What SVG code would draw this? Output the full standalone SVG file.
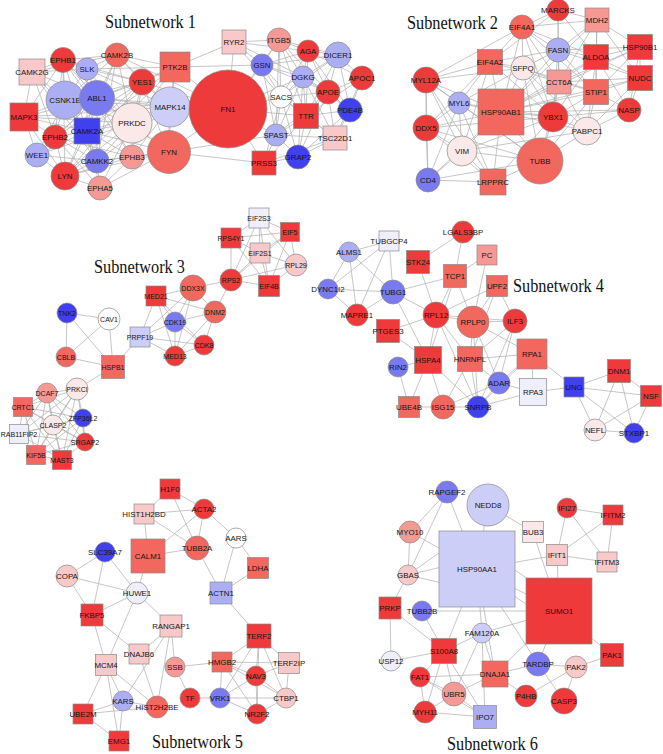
<svg xmlns="http://www.w3.org/2000/svg" width="663" height="754" viewBox="0 0 663 754">
<style>
.e{fill:none;stroke:#aeaeae;stroke-width:.7}
.n>circle,.n>rect{stroke:#8a8a8a;stroke-width:.7}
.n text{font-family:"Liberation Sans",Arial,sans-serif;font-size:7.9px;fill:#151515;text-anchor:middle}
.s3 .n text{font-size:7px}
.R1{fill:#ee3a3a}.R2{fill:#f2685f}.R3{fill:#f69995}.R4{fill:#f9c8c8}.W{fill:#fbe8e9}.WW{fill:#fff}.L{fill:#eeeffb}.B4{fill:#cdcef7}.B3{fill:#acaef4}.B2{fill:#7a7af0}.B1{fill:#4040ee}
.t{font-family:"Liberation Serif","Times New Roman",serif;font-size:16.3px;fill:#111}
</style>
<rect width="663" height="754" fill="#fff"/>
<g id="titles">
<text class="t" transform="translate(105,28) scale(1,1.13)">Subnetwork 1</text>
<text class="t" transform="translate(407,29) scale(1,1.13)">Subnetwork 2</text>
<text class="t" transform="translate(94,273) scale(1,1.13)">Subnetwork 3</text>
<text class="t" transform="translate(513,292) scale(1,1.13)">Subnetwork 4</text>
<text class="t" transform="translate(152,748) scale(1,1.13)">Subnetwork 5</text>
<text class="t" transform="translate(447,750) scale(1,1.13)">Subnetwork 6</text>
</g>
<g id="connectors">
<path class="e" d="M63,60L32,72M63,60L87,69M63,60L65,100M63,60L97,98M63,60L117,55M63,60L24,117M63,60L87,131M63,60L55,137M63,60L142,82M63,60L132,123M63,60L65,176M63,60L132,157
M117,55L87,69M117,55L142,82M117,55L175,67M117,55L97,98M117,55L65,100M117,55L87,131M117,55L32,72M117,55L132,123M117,55L170,107M117,55L97,161M117,55L228,109
M32,72L87,69M32,72L65,100M32,72L24,117M32,72L87,131M32,72L97,98M32,72L55,137M32,72L97,161
M87,69L142,82M87,69L65,100M87,69L97,98M87,69L175,67M87,69L87,131M87,69L170,107M87,69L132,123
M142,82L175,67M142,82L97,98M142,82L170,107M142,82L132,123M142,82L168,152M142,82L65,176M142,82L132,157M142,82L65,100M142,82L87,131M142,82L228,109M142,82L55,137
M175,67L170,107M175,67L97,98M175,67L132,123M175,67L168,152M175,67L228,109M175,67L87,131M175,67L65,176M175,67L234,42M175,67L262,65
M65,100L97,98M65,100L24,117M65,100L87,131M65,100L55,137M65,100L37,155M65,100L132,123M65,100L97,161M65,100L170,107
M97,98L132,123M97,98L87,131M97,98L55,137M97,98L170,107M97,98L97,161M97,98L168,152M97,98L65,176M97,98L132,157M97,98L37,155M97,98L24,117M97,98L228,109
M24,117L87,131M24,117L55,137M24,117L37,155M24,117L170,107M24,117L65,176M24,117L132,123
M170,107L132,123M170,107L168,152M170,107L228,109M170,107L87,131M170,107L132,157M170,107L97,161
M132,123L87,131M132,123L168,152M132,123L132,157M132,123L97,161M132,123L100,188M132,123L65,176M132,123L37,155
M87,131L55,137M87,131L37,155M87,131L97,161M87,131L132,157M87,131L65,176M87,131L100,188M87,131L168,152
M55,137L37,155M55,137L65,176M55,137L97,161M55,137L100,188M55,137L132,157
M37,155L65,176M37,155L97,161M97,161L132,157M97,161L65,176M97,161L100,188M97,161L168,152
M132,157L168,152M132,157L100,188M132,157L65,176
M168,152L228,109M168,152L65,176M168,152L100,188M168,152L264,163M168,152L276,135M65,176L100,188
M228,109L234,42M228,109L262,65M228,109L279,40M228,109L281,97M228,109L276,135M228,109L264,163M228,109L306,116M228,109L303,77
M234,42L279,40M234,42L262,65M234,42L308,51M234,42L303,77M234,42L281,97
M279,40L308,51M279,40L338,55M279,40L262,65M279,40L303,77M279,40L328,92M279,40L281,97M279,40L306,116M279,40L276,135
M308,51L338,55M308,51L262,65M308,51L303,77M308,51L328,92M308,51L281,97M308,51L306,116M308,51L362,78M308,51L350,110
M338,55L303,77M338,55L328,92M338,55L362,78M338,55L350,110M338,55L306,116M338,55L281,97M338,55L262,65
M262,65L303,77M262,65L281,97M262,65L328,92M262,65L306,116M262,65L276,135
M303,77L328,92M303,77L281,97M303,77L306,116M303,77L276,135M303,77L350,110M303,77L335,138M303,77L298,157
M328,92L281,97M328,92L306,116M328,92L362,78M328,92L350,110M328,92L335,138M328,92L276,135M328,92L298,157
M281,97L306,116M281,97L276,135M281,97L264,163M281,97L298,157M281,97L335,138
M306,116L276,135M306,116L335,138M306,116L298,157M306,116L264,163M306,116L350,110M306,116L362,78
M276,135L264,163M276,135L298,157M276,135L335,138M335,138L298,157M335,138L350,110M335,138L264,163M335,138L362,78
M298,157L264,163M298,157L350,110M350,110L362,78"/>
<path class="e" d="M426,80L490,62M426,80L459,103M426,80L501,112M426,80L426,128M426,80L462,151M426,80L428,180M426,80L493,182M426,80L522,27M426,80L523,68M426,80L540,161
M490,62L459,103M490,62L501,112M490,62L522,27M490,62L523,68M490,62L558,50M490,62L559,82M490,62L553,117M490,62L426,128M490,62L462,151M490,62L558,10
M459,103L501,112M459,103L426,128M459,103L462,151M459,103L428,180M459,103L493,182M459,103L523,68M459,103L540,161M459,103L553,117
M501,112L426,128M501,112L462,151M501,112L428,180M501,112L493,182M501,112L523,68M501,112L522,27M501,112L558,50M501,112L559,82M501,112L553,117M501,112L596,92M501,112L540,161M501,112L587,131M501,112L629,110M501,112L596,57M501,112L597,20M501,112L640,47M501,112L640,78
M426,128L462,151M426,128L428,180M426,128L493,182M426,128L540,161M426,128L553,117
M462,151L428,180M462,151L493,182M462,151L540,161M462,151L553,117M462,151L587,131
M428,180L493,182M428,180L540,161M493,182L540,161M493,182L553,117
M522,27L558,10M522,27L558,50M522,27L523,68M522,27L559,82M522,27L597,20M522,27L596,57M522,27L596,92M522,27L553,117
M558,10L558,50M558,10L597,20M558,10L596,57M558,10L559,82
M597,20L558,50M597,20L596,57M597,20L640,47M597,20L596,92M597,20L559,82M597,20L640,78
M558,50L523,68M558,50L596,57M558,50L559,82M558,50L596,92M558,50L553,117M558,50L640,47M558,50L640,78
M523,68L559,82M523,68L553,117M523,68L540,161M523,68L596,92M523,68L587,131
M596,57L640,47M596,57L559,82M596,57L596,92M596,57L640,78M596,57L629,110M596,57L553,117M596,57L587,131
M640,47L640,78M640,47L596,92M640,47L629,110M640,47L559,82
M559,82L596,92M559,82L553,117M559,82L587,131M559,82L540,161M559,82L640,78
M596,92L640,78M596,92L629,110M596,92L553,117M596,92L587,131M596,92L540,161
M640,78L629,110M640,78L587,131M629,110L587,131M629,110L553,117M553,117L587,131M553,117L540,161M587,131L540,161"/>
<path class="e" d="M67,313L109,319M67,313L66,357M67,313L113,367M109,319L66,357M109,319L113,367M66,357L113,367M113,367L140,337M113,367L77,389
M140,337L156,296M140,337L175,322M140,337L175,356M140,337L204,345M140,337L193,288
M156,296L193,288M156,296L175,322M156,296L175,356M156,296L204,345M156,296L215,312
M175,322L193,288M175,322L215,312M175,322L204,345M175,322L175,356
M193,288L215,312M193,288L231,280M193,288L175,356M215,312L231,280M215,312L204,345M215,312L175,356M204,345L175,356
M231,280L231,238M231,280L259,218M231,280L260,253M231,280L269,286M231,280L290,232M231,280L296,265
M231,238L259,218M231,238L260,253M231,238L290,232M231,238L269,286
M259,218L290,232M259,218L260,253M259,218L296,265M259,218L269,286
M290,232L260,253M290,232L296,265M290,232L269,286M260,253L296,265M260,253L269,286M269,286L296,265
M77,389L47,393M77,389L23,407M77,389L83,418M77,389L53,425M77,389L85,442M77,389L36,455M77,389L62,460M77,389L19,434
M47,393L23,407M47,393L83,418M47,393L53,425M47,393L19,434M47,393L85,442M47,393L36,455M47,393L62,460
M23,407L83,418M23,407L53,425M23,407L19,434M23,407L36,455M23,407L62,460M23,407L85,442
M83,418L53,425M83,418L19,434M83,418L85,442M83,418L36,455M83,418L62,460
M53,425L19,434M53,425L85,442M53,425L36,455M53,425L62,460
M19,434L36,455M19,434L62,460M19,434L85,442M85,442L36,455M85,442L62,460M36,455L62,460"/>
<path class="e" d="M349,252L389,241M349,252L328,289M349,252L393,292M349,252L357,315
M389,241L328,289M389,241L393,292M389,241L357,315M328,289L393,292M328,289L357,315
M393,292L357,315M393,292L455,276M393,292L436,315M393,292L428,360
M463,232L418,262M463,232L455,276M418,262L436,315M487,255L455,276M487,255L473,322
M455,276L436,315M455,276L473,322M455,276L428,360
M497,286L436,315M497,286L473,322M497,286L470,359M497,286L515,321
M436,315L473,322M436,315L388,331M436,315L428,360M436,315L470,359M436,315L478,407M436,315L515,321
M473,322L515,321M473,322L470,359M473,322L478,407M473,322L499,383M473,322L532,354
M515,321L470,359M515,321L499,383M515,321L478,407
M388,331L428,360M428,360L398,367M428,360L409,407M428,360L443,407M428,360L478,407
M470,359L478,407M470,359L499,383M470,359L532,354M470,359L443,407
M398,367L409,407M409,407L443,407M443,407L478,407M443,407L499,383
M478,407L499,383M478,407L533,392M478,407L532,354M499,383L532,354M499,383L533,392
M532,354L533,392M532,354L574,387M533,392L574,387
M574,387L619,371M574,387L651,396M574,387L595,430M574,387L634,433
M619,371L651,396M619,371L595,430M619,371L634,433M651,396L595,430M651,396L634,433M595,430L634,433"/>
<path class="e" d="M170,489L144,514M170,489L204,509M170,489L197,548
M144,514L204,509M144,514L148,556M144,514L197,548
M204,509L236,538M204,509L197,548M204,509L148,556
M148,556L197,548M148,556L137,593
M236,538L221,593M236,538L258,568M197,548L221,593M258,568L221,593M221,593L259,636
M105,552L67,576M105,552L137,593M105,552L92,615M67,576L137,593M67,576L92,615
M137,593L92,615M137,593L171,626M137,593L106,665M92,615L106,665M92,615L139,654
M171,626L139,654M171,626L175,667M171,626L157,707M139,654L157,707
M106,665L123,701M106,665L157,707M106,665L83,714M106,665L119,741
M123,701L83,714M123,701L119,741M123,701L157,707M123,701L171,626
M83,714L157,707M83,714L119,741
M175,667L222,662M175,667L190,698M190,698L220,698
M259,636L222,662M259,636L256,676M259,636L220,698M259,636L289,663M259,636L286,698M259,636L257,714
M222,662L256,676M222,662L220,698M222,662L289,663M222,662L286,698M222,662L257,714
M256,676L220,698M256,676L286,698M256,676L257,714M256,676L289,663
M220,698L257,714M220,698L286,698M286,698L257,714M286,698L289,663"/>
<path class="e" d="M447,492L410,532M447,492L408,575M447,492L477,569
M488,505L477,569M488,505L533,532M410,532L408,575M410,532L477,569
M408,575L450,545M408,575L450,565M408,575L450,585M408,575L390,608
M477,569L559,611M500,560L559,600M505,590L550,620M477,569L557,555
M422,611L559,611M477,569L482,633M477,569L444,651M477,569L538,664M477,569L495,674
M533,532L559,611M567,508L613,515M567,508L557,555M567,508L607,562
M613,515L557,555M613,515L607,562M557,555L607,562M557,555L559,611
M559,611L612,655M559,611L482,633M559,611L538,664M559,611L495,674
M390,608L391,661M390,608L444,651M422,611L444,651
M482,633L444,651M482,633L495,674M482,633L485,717M482,633L454,694
M444,651L391,661M444,651L420,677M444,651L454,694M444,651L425,712M444,651L485,717
M420,677L454,694M420,677L495,674M420,677L485,717M420,677L425,712
M454,694L425,712M454,694L485,717M454,694L495,674M425,712L485,717
M495,674L526,696M495,674L538,664M538,664L564,701M538,664L576,667
M576,667L612,655M576,667L564,701M576,667L526,696"/>
</g>
<g id="subnetwork1">
<g id="CSNK1E" class="n"><circle class="B3" cx="65" cy="100" r="19"/><text x="65" y="103">CSNK1E</text></g>
<g id="ABL1" class="n"><circle class="B2" cx="97" cy="98" r="17.5"/><text x="97" y="101">ABL1</text></g>
<g id="EPHB1" class="n"><circle class="R1" cx="63" cy="60" r="12.5"/><text x="63" y="63">EPHB1</text></g>
<g id="CAMK2B" class="n"><circle class="R2" cx="117" cy="55" r="12"/><text x="117" y="58">CAMK2B</text></g>
<g id="CAMK2G" class="n"><rect class="R4" x="19" y="59" width="26" height="26"/><text x="32" y="75">CAMK2G</text></g>
<g id="SLK" class="n"><circle class="B3" cx="87" cy="69" r="11"/><text x="87" y="72">SLK</text></g>
<g id="YES1" class="n"><circle class="R1" cx="142" cy="82" r="13"/><text x="142" y="85">YES1</text></g>
<g id="PTK2B" class="n"><rect class="R2" x="160" y="52" width="30" height="30"/><text x="175" y="70">PTK2B</text></g>
<g id="MAPK3" class="n"><rect class="R1" x="10" y="103" width="28" height="28"/><text x="24" y="120">MAPK3</text></g>
<g id="MAPK14" class="n"><circle class="B4" cx="170" cy="107" r="20"/><text x="170" y="110">MAPK14</text></g>
<g id="PRKDC" class="n"><circle class="W" cx="132" cy="123" r="20"/><text x="132" y="126">PRKDC</text></g>
<g id="EPHB2" class="n"><circle class="R1" cx="55" cy="137" r="12"/><text x="55" y="140">EPHB2</text></g>
<g id="CAMK2A" class="n"><rect class="B1" x="74" y="118" width="26" height="26"/><text x="87" y="134">CAMK2A</text></g>
<g id="WEE1" class="n"><circle class="B3" cx="37" cy="155" r="12"/><text x="37" y="158">WEE1</text></g>
<g id="CAMKK2" class="n"><circle class="B2" cx="97" cy="161" r="12"/><text x="97" y="164">CAMKK2</text></g>
<g id="EPHB3" class="n"><circle class="R3" cx="132" cy="157" r="12"/><text x="132" y="160">EPHB3</text></g>
<g id="FYN" class="n"><circle class="R2" cx="169" cy="152" r="21.5"/><text x="169" y="155">FYN</text></g>
<g id="LYN" class="n"><circle class="R1" cx="65" cy="176" r="14"/><text x="65" y="179">LYN</text></g>
<g id="EPHA5" class="n"><circle class="R3" cx="100" cy="188" r="12"/><text x="100" y="191">EPHA5</text></g>
<g id="FN1" class="n"><circle class="R1" cx="228" cy="109" r="39"/><text x="228" y="112">FN1</text></g>
<g id="RYR2" class="n"><rect class="R4" x="222" y="30" width="24" height="24"/><text x="234" y="45">RYR2</text></g>
<g id="ITGB5" class="n"><circle class="R3" cx="279" cy="40" r="12"/><text x="279" y="43">ITGB5</text></g>
<g id="AGA" class="n"><circle class="R1" cx="308" cy="51" r="11"/><text x="308" y="54">AGA</text></g>
<g id="DICER1" class="n"><circle class="B3" cx="338" cy="55" r="13"/><text x="338" y="58">DICER1</text></g>
<g id="GSN" class="n"><circle class="B2" cx="262" cy="65" r="11"/><text x="262" y="68">GSN</text></g>
<g id="DGKG" class="n"><circle class="B3" cx="303" cy="77" r="11"/><text x="303" y="80">DGKG</text></g>
<g id="APOC1" class="n"><circle class="R1" cx="362" cy="78" r="12"/><text x="362" y="81">APOC1</text></g>
<g id="APOE" class="n"><circle class="R1" cx="328" cy="92" r="12"/><text x="328" y="95">APOE</text></g>
<g id="SACS" class="n"><circle class="WW" cx="281" cy="97" r="11"/><text x="281" y="100">SACS</text></g>
<g id="PDE4B" class="n"><circle class="B1" cx="350" cy="110" r="12"/><text x="350" y="113">PDE4B</text></g>
<g id="TTR" class="n"><rect class="R1" x="293.5" y="103.5" width="25" height="25"/><text x="306" y="119">TTR</text></g>
<g id="SPAST" class="n"><circle class="B3" cx="276" cy="135" r="11"/><text x="276" y="138">SPAST</text></g>
<g id="TSC22D1" class="n"><rect class="R4" x="323" y="126" width="24" height="24"/><text x="335" y="141">TSC22D1</text></g>
<g id="GRAP2" class="n"><circle class="B1" cx="298" cy="157" r="12"/><text x="298" y="160">GRAP2</text></g>
<g id="PRSS3" class="n"><rect class="R1" x="252" y="151" width="24" height="24"/><text x="264" y="166">PRSS3</text></g>
</g>
<g id="subnetwork2">
<g id="MYL12A" class="n"><circle class="R1" cx="426" cy="80" r="13"/><text x="426" y="83">MYL12A</text></g>
<g id="EIF4A2" class="n"><rect class="R2" x="477.5" y="49.5" width="25" height="25"/><text x="490" y="65">EIF4A2</text></g>
<g id="MYL6" class="n"><circle class="B3" cx="459" cy="103" r="11"/><text x="459" y="106">MYL6</text></g>
<g id="HSP90AB1" class="n"><rect class="R2" x="478" y="89" width="46" height="46"/><text x="501" y="115">HSP90AB1</text></g>
<g id="DDX5" class="n"><circle class="R1" cx="426" cy="128" r="13"/><text x="426" y="131">DDX5</text></g>
<g id="VIM" class="n"><circle class="W" cx="462" cy="151" r="15"/><text x="462" y="154">VIM</text></g>
<g id="CD4" class="n"><circle class="B2" cx="428" cy="180" r="12"/><text x="428" y="183">CD4</text></g>
<g id="LRPPRC" class="n"><rect class="R2" x="480" y="169" width="26" height="26"/><text x="493" y="185">LRPPRC</text></g>
<g id="EIF4A1" class="n"><circle class="R2" cx="522" cy="27" r="12"/><text x="522" y="30">EIF4A1</text></g>
<g id="MARCKS" class="n"><circle class="R1" cx="558" cy="10" r="11"/><text x="558" y="13">MARCKS</text></g>
<g id="MDH2" class="n"><rect class="R3" x="585" y="8" width="24" height="24"/><text x="597" y="23">MDH2</text></g>
<g id="FASN" class="n"><circle class="B3" cx="558" cy="50" r="12"/><text x="558" y="53">FASN</text></g>
<g id="SFPQ" class="n"><circle class="W" cx="523" cy="68" r="12"/><text x="523" y="71">SFPQ</text></g>
<g id="ALDOA" class="n"><rect class="R1" x="583.5" y="44.5" width="25" height="25"/><text x="596" y="60">ALDOA</text></g>
<g id="HSP90B1" class="n"><rect class="R1" x="627.5" y="34.5" width="25" height="25"/><text x="640" y="50">HSP90B1</text></g>
<g id="CCT6A" class="n"><rect class="R3" x="547" y="70" width="24" height="24"/><text x="559" y="85">CCT6A</text></g>
<g id="STIP1" class="n"><rect class="R2" x="583.5" y="79.5" width="25" height="25"/><text x="596" y="95">STIP1</text></g>
<g id="NUDC" class="n"><rect class="R1" x="627.5" y="65.5" width="25" height="25"/><text x="640" y="81">NUDC</text></g>
<g id="NASP" class="n"><circle class="R1" cx="629" cy="110" r="12"/><text x="629" y="113">NASP</text></g>
<g id="YBX1" class="n"><circle class="R1" cx="553" cy="117" r="15"/><text x="553" y="120">YBX1</text></g>
<g id="PABPC1" class="n"><circle class="W" cx="587" cy="131" r="14"/><text x="587" y="134">PABPC1</text></g>
<g id="TUBB" class="n"><circle class="R2" cx="540" cy="161" r="23"/><text x="540" y="164">TUBB</text></g>
</g>
<g id="subnetwork3" class="s3">
<g id="MED21" class="n"><rect class="R1" x="146" y="286" width="20" height="20"/><text x="156" y="298.5">MED21</text></g>
<g id="TNK2" class="n"><circle class="B1" cx="67" cy="313" r="10"/><text x="67" y="315.5">TNK2</text></g>
<g id="CAV1" class="n"><circle class="WW" cx="109" cy="319" r="11"/><text x="109" y="321.5">CAV1</text></g>
<g id="PRPF19" class="n"><rect class="B4" x="130" y="327" width="20" height="20"/><text x="140" y="339.5">PRPF19</text></g>
<g id="CBLB" class="n"><circle class="R2" cx="66" cy="357" r="10"/><text x="66" y="359.5">CBLB</text></g>
<g id="HSPB1" class="n"><rect class="R2" x="101.5" y="355.5" width="23" height="23"/><text x="113" y="369.5">HSPB1</text></g>
<g id="PRKCI" class="n"><circle class="W" cx="77" cy="389" r="11"/><text x="77" y="391.5">PRKCI</text></g>
<g id="DCAF7" class="n"><circle class="R3" cx="47" cy="393" r="10"/><text x="47" y="395.5">DCAF7</text></g>
<g id="CRTC1" class="n"><rect class="R2" x="13.5" y="397.5" width="19" height="19"/><text x="23" y="409.5">CRTC1</text></g>
<g id="ZFP36L2" class="n"><circle class="B1" cx="83" cy="418" r="9"/><text x="83" y="420.5">ZFP36L2</text></g>
<g id="CLASP2" class="n"><circle class="W" cx="53" cy="425" r="10"/><text x="53" y="427.5">CLASP2</text></g>
<g id="RAB11FIP2" class="n"><rect class="L" x="9.5" y="424.5" width="19" height="19"/><text x="19" y="436.5">RAB11FIP2</text></g>
<g id="SRGAP2" class="n"><circle class="R1" cx="85" cy="442" r="9"/><text x="85" y="444.5">SRGAP2</text></g>
<g id="KIF5B" class="n"><rect class="R2" x="26.5" y="445.5" width="19" height="19"/><text x="36" y="457.5">KIF5B</text></g>
<g id="MAST3" class="n"><rect class="R1" x="52.5" y="450.5" width="19" height="19"/><text x="62" y="462.5">MAST3</text></g>
<g id="EIF2S3" class="n"><rect class="L" x="249" y="208" width="20" height="20"/><text x="259" y="220.5">EIF2S3</text></g>
<g id="RPS4Y1" class="n"><rect class="R1" x="221" y="228" width="20" height="20"/><text x="231" y="240.5">RPS4Y1</text></g>
<g id="EIF5" class="n"><rect class="R1" x="280.5" y="222.5" width="19" height="19"/><text x="290" y="234.5">EIF5</text></g>
<g id="EIF2S1" class="n"><rect class="R4" x="250" y="243" width="20" height="20"/><text x="260" y="255.5">EIF2S1</text></g>
<g id="RPL29" class="n"><circle class="R4" cx="296" cy="265" r="11"/><text x="296" y="267.5">RPL29</text></g>
<g id="RPS2" class="n"><circle class="R1" cx="231" cy="280" r="11"/><text x="231" y="282.5">RPS2</text></g>
<g id="EIF4B" class="n"><rect class="R1" x="258.5" y="275.5" width="21" height="21"/><text x="269" y="288.5">EIF4B</text></g>
<g id="DDX3X" class="n"><circle class="R2" cx="193" cy="288" r="13"/><text x="193" y="290.5">DDX3X</text></g>
<g id="DNM2" class="n"><circle class="R2" cx="215" cy="312" r="11"/><text x="215" y="314.5">DNM2</text></g>
<g id="CDK19" class="n"><circle class="B2" cx="175" cy="322" r="10"/><text x="175" y="324.5">CDK19</text></g>
<g id="CDK8" class="n"><circle class="R1" cx="204" cy="345" r="10"/><text x="204" y="347.5">CDK8</text></g>
<g id="MED13" class="n"><circle class="R1" cx="175" cy="356" r="10"/><text x="175" y="358.5">MED13</text></g>
</g>
<g id="subnetwork4">
<g id="TUBGCP4" class="n"><rect class="L" x="379" y="231" width="20" height="20"/><text x="389" y="244">TUBGCP4</text></g>
<g id="LGALS3BP" class="n"><circle class="R1" cx="463" cy="232" r="11"/><text x="463" y="235">LGALS3BP</text></g>
<g id="ALMS1" class="n"><circle class="B3" cx="349" cy="252" r="10"/><text x="349" y="255">ALMS1</text></g>
<g id="STK24" class="n"><rect class="R1" x="406.5" y="250.5" width="23" height="23"/><text x="418" y="265">STK24</text></g>
<g id="PC" class="n"><rect class="R3" x="477" y="245" width="20" height="20"/><text x="487" y="258">PC</text></g>
<g id="TCP1" class="n"><rect class="R2" x="443.5" y="264.5" width="23" height="23"/><text x="455" y="279">TCP1</text></g>
<g id="UPF2" class="n"><rect class="R2" x="486.5" y="275.5" width="21" height="21"/><text x="497" y="289">UPF2</text></g>
<g id="DYNC1I2" class="n"><circle class="B2" cx="328" cy="289" r="10"/><text x="328" y="292">DYNC1I2</text></g>
<g id="TUBG1" class="n"><circle class="B2" cx="393" cy="292" r="12"/><text x="393" y="295">TUBG1</text></g>
<g id="MAPRE1" class="n"><circle class="R1" cx="357" cy="315" r="11"/><text x="357" y="318">MAPRE1</text></g>
<g id="RPL12" class="n"><circle class="R1" cx="436" cy="315" r="13"/><text x="436" y="318">RPL12</text></g>
<g id="RPLP0" class="n"><circle class="R2" cx="473" cy="322" r="16"/><text x="473" y="325">RPLP0</text></g>
<g id="ILF3" class="n"><circle class="R1" cx="515" cy="321" r="12"/><text x="515" y="324">ILF3</text></g>
<g id="PTGES3" class="n"><rect class="R1" x="376.5" y="319.5" width="23" height="23"/><text x="388" y="334">PTGES3</text></g>
<g id="RPA1" class="n"><rect class="R2" x="517" y="339" width="30" height="30"/><text x="532" y="357">RPA1</text></g>
<g id="HSPA4" class="n"><rect class="R1" x="414.5" y="346.5" width="27" height="27"/><text x="428" y="363">HSPA4</text></g>
<g id="HNRNPL" class="n"><rect class="R2" x="457.5" y="346.5" width="25" height="25"/><text x="470" y="362">HNRNPL</text></g>
<g id="RIN2" class="n"><circle class="B2" cx="398" cy="367" r="10"/><text x="398" y="370">RIN2</text></g>
<g id="ADAR" class="n"><circle class="B2" cx="499" cy="383" r="11"/><text x="499" y="386">ADAR</text></g>
<g id="RPA3" class="n"><rect class="L" x="519.5" y="378.5" width="27" height="27"/><text x="533" y="395">RPA3</text></g>
<g id="UNG" class="n"><rect class="B1" x="564" y="377" width="20" height="20"/><text x="574" y="390">UNG</text></g>
<g id="DNM1" class="n"><rect class="R1" x="607.5" y="359.5" width="23" height="23"/><text x="619" y="374">DNM1</text></g>
<g id="NSF" class="n"><rect class="R1" x="640.5" y="385.5" width="21" height="21"/><text x="651" y="399">NSF</text></g>
<g id="UBE4B" class="n"><rect class="R2" x="398.5" y="396.5" width="21" height="21"/><text x="409" y="410">UBE4B</text></g>
<g id="ISG15" class="n"><circle class="R2" cx="443" cy="407" r="12"/><text x="443" y="410">ISG15</text></g>
<g id="SNRPB" class="n"><circle class="B1" cx="478" cy="407" r="11"/><text x="478" y="410">SNRPB</text></g>
<g id="NEFL" class="n"><circle class="W" cx="595" cy="430" r="11"/><text x="595" y="433">NEFL</text></g>
<g id="STXBP1" class="n"><circle class="B1" cx="634" cy="433" r="10"/><text x="634" y="436">STXBP1</text></g>
</g>
<g id="subnetwork5">
<g id="H1F0" class="n"><rect class="R1" x="160" y="479" width="20" height="20"/><text x="170" y="492">H1F0</text></g>
<g id="HIST1H2BD" class="n"><rect class="R4" x="134" y="504" width="20" height="20"/><text x="144" y="517">HIST1H2BD</text></g>
<g id="ACTA2" class="n"><circle class="R1" cx="204" cy="509" r="10"/><text x="204" y="512">ACTA2</text></g>
<g id="AARS" class="n"><circle class="WW" cx="236" cy="538" r="10"/><text x="236" y="541">AARS</text></g>
<g id="CALM1" class="n"><rect class="R2" x="131" y="539" width="34" height="34"/><text x="148" y="559">CALM1</text></g>
<g id="TUBB2A" class="n"><circle class="R2" cx="197" cy="548" r="12"/><text x="197" y="551">TUBB2A</text></g>
<g id="LDHA" class="n"><rect class="R2" x="247.5" y="557.5" width="21" height="21"/><text x="258" y="571">LDHA</text></g>
<g id="SLC39A7" class="n"><circle class="B1" cx="105" cy="552" r="10"/><text x="105" y="555">SLC39A7</text></g>
<g id="COPA" class="n"><circle class="R4" cx="67" cy="576" r="11"/><text x="67" y="579">COPA</text></g>
<g id="ACTN1" class="n"><rect class="B3" x="210" y="582" width="22" height="22"/><text x="221" y="596">ACTN1</text></g>
<g id="HUWE1" class="n"><circle class="L" cx="137" cy="593" r="11"/><text x="137" y="596">HUWE1</text></g>
<g id="FKBP5" class="n"><rect class="R1" x="81" y="604" width="22" height="22"/><text x="92" y="618">FKBP5</text></g>
<g id="RANGAP1" class="n"><rect class="R4" x="160" y="615" width="22" height="22"/><text x="171" y="629">RANGAP1</text></g>
<g id="TERF2" class="n"><rect class="R1" x="247" y="624" width="24" height="24"/><text x="259" y="639">TERF2</text></g>
<g id="DNAJB6" class="n"><rect class="R4" x="129" y="644" width="20" height="20"/><text x="139" y="657">DNAJB6</text></g>
<g id="SSB" class="n"><circle class="R3" cx="175" cy="667" r="10"/><text x="175" y="670">SSB</text></g>
<g id="HMGB2" class="n"><rect class="R2" x="212" y="652" width="20" height="20"/><text x="222" y="665">HMGB2</text></g>
<g id="TERF2IP" class="n"><rect class="R4" x="278.5" y="652.5" width="21" height="21"/><text x="289" y="666">TERF2IP</text></g>
<g id="MCM4" class="n"><rect class="R4" x="95.5" y="654.5" width="21" height="21"/><text x="106" y="668">MCM4</text></g>
<g id="NAV3" class="n"><circle class="R1" cx="256" cy="676" r="10"/><text x="256" y="679">NAV3</text></g>
<g id="KARS" class="n"><circle class="B3" cx="123" cy="701" r="10"/><text x="123" y="704">KARS</text></g>
<g id="HIST2H2BE" class="n"><circle class="R2" cx="157" cy="707" r="11"/><text x="157" y="710">HIST2H2BE</text></g>
<g id="TF" class="n"><circle class="R1" cx="190" cy="698" r="10"/><text x="190" y="701">TF</text></g>
<g id="VRK1" class="n"><circle class="B2" cx="220" cy="698" r="10"/><text x="220" y="701">VRK1</text></g>
<g id="CTBP1" class="n"><circle class="R4" cx="286" cy="698" r="10"/><text x="286" y="701">CTBP1</text></g>
<g id="NR2F2" class="n"><circle class="R1" cx="257" cy="714" r="10"/><text x="257" y="717">NR2F2</text></g>
<g id="UBE2M" class="n"><rect class="R1" x="73" y="704" width="20" height="20"/><text x="83" y="717">UBE2M</text></g>
<g id="EMG1" class="n"><rect class="R1" x="109" y="731" width="20" height="20"/><text x="119" y="744">EMG1</text></g>
</g>
<g id="subnetwork6">
<g id="RAPGEF2" class="n"><circle class="B2" cx="447" cy="492" r="11"/><text x="447" y="495">RAPGEF2</text></g>
<g id="NEDD8" class="n"><circle class="B4" cx="488" cy="505" r="21"/><text x="488" y="508">NEDD8</text></g>
<g id="MYO10" class="n"><circle class="R3" cx="410" cy="532" r="11"/><text x="410" y="535">MYO10</text></g>
<g id="HSP90AA1" class="n"><rect class="B4" x="439" y="531" width="76" height="76"/><text x="477" y="572">HSP90AA1</text></g>
<g id="BUB3" class="n"><rect class="W" x="522.5" y="521.5" width="21" height="21"/><text x="533" y="535">BUB3</text></g>
<g id="IFI27" class="n"><circle class="R1" cx="567" cy="508" r="10"/><text x="567" y="511">IFI27</text></g>
<g id="IFITM2" class="n"><rect class="R1" x="603" y="505" width="20" height="20"/><text x="613" y="518">IFITM2</text></g>
<g id="IFIT1" class="n"><rect class="R4" x="546.5" y="544.5" width="21" height="21"/><text x="557" y="558">IFIT1</text></g>
<g id="IFITM3" class="n"><rect class="R4" x="597" y="552" width="20" height="20"/><text x="607" y="565">IFITM3</text></g>
<g id="GBAS" class="n"><circle class="R4" cx="408" cy="575" r="10"/><text x="408" y="578">GBAS</text></g>
<g id="SUMO1" class="n"><rect class="R1" x="526" y="578" width="66" height="66"/><text x="559" y="614">SUMO1</text></g>
<g id="PRKP" class="n"><rect class="R1" x="379" y="597" width="22" height="22"/><text x="390" y="611">PRKP</text></g>
<g id="TUBB2B" class="n"><circle class="B2" cx="422" cy="611" r="10"/><text x="422" y="614">TUBB2B</text></g>
<g id="FAM120A" class="n"><circle class="B4" cx="482" cy="633" r="10"/><text x="482" y="636">FAM120A</text></g>
<g id="S100A8" class="n"><rect class="R1" x="431.5" y="638.5" width="25" height="25"/><text x="444" y="654">S100A8</text></g>
<g id="USP12" class="n"><circle class="L" cx="391" cy="661" r="10"/><text x="391" y="664">USP12</text></g>
<g id="PAK1" class="n"><rect class="R1" x="600.5" y="643.5" width="23" height="23"/><text x="612" y="658">PAK1</text></g>
<g id="TARDBP" class="n"><circle class="B2" cx="538" cy="664" r="12"/><text x="538" y="667">TARDBP</text></g>
<g id="PAK2" class="n"><circle class="R4" cx="576" cy="667" r="11"/><text x="576" y="670">PAK2</text></g>
<g id="DNAJA1" class="n"><rect class="R2" x="482" y="661" width="26" height="26"/><text x="495" y="677">DNAJA1</text></g>
<g id="FAT1" class="n"><circle class="R1" cx="420" cy="677" r="10"/><text x="420" y="680">FAT1</text></g>
<g id="UBR5" class="n"><circle class="R3" cx="454" cy="694" r="12"/><text x="454" y="697">UBR5</text></g>
<g id="P4HB" class="n"><circle class="R1" cx="526" cy="696" r="11"/><text x="526" y="699">P4HB</text></g>
<g id="CASP3" class="n"><circle class="R1" cx="564" cy="701" r="13"/><text x="564" y="704">CASP3</text></g>
<g id="MYH11" class="n"><circle class="R1" cx="425" cy="712" r="11"/><text x="425" y="715">MYH11</text></g>
<g id="IPO7" class="n"><rect class="B3" x="473.5" y="705.5" width="23" height="23"/><text x="485" y="720">IPO7</text></g>
</g>
</svg>
